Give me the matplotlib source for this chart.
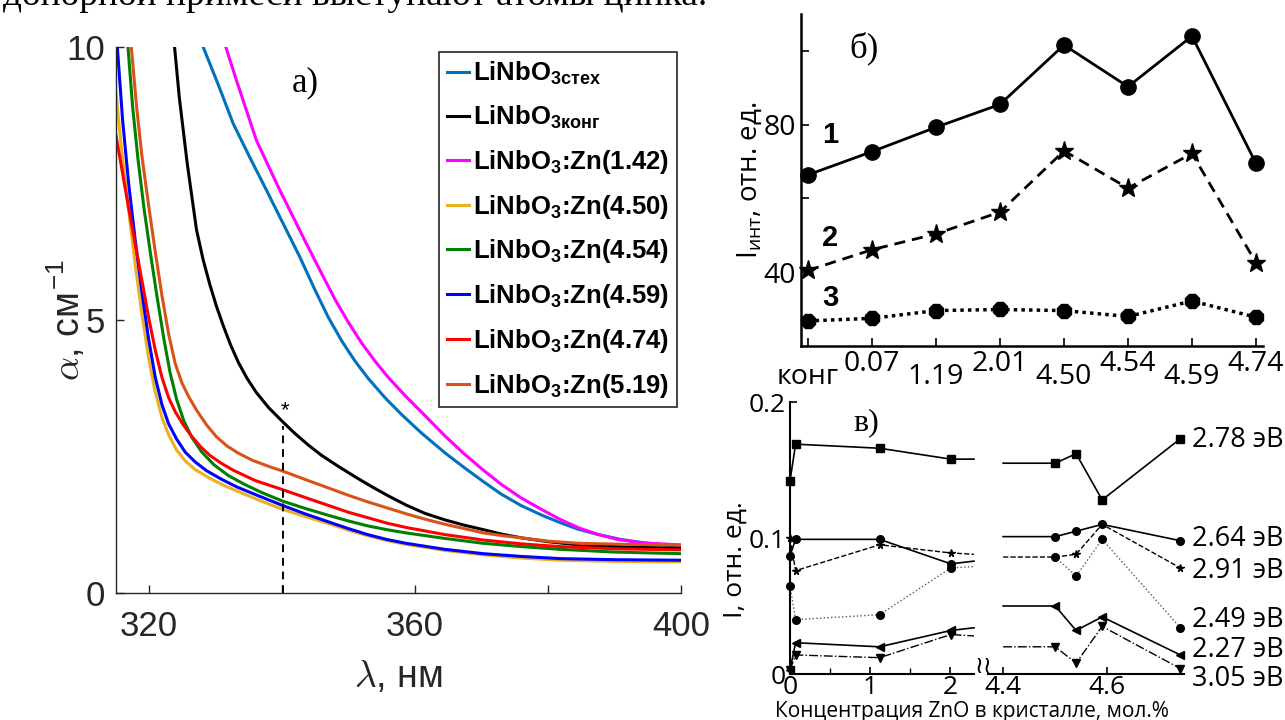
import matplotlib
matplotlib.use("Agg")
import matplotlib.pyplot as plt

plt.rcParams["font.family"] = ["Liberation Sans", "DejaVu Sans"]

# ---------------- a) absorption spectra: wavelength (nm) -> alpha (cm^-1)
lam_stex = [328.2, 330.5, 332.7, 335.2, 337.7, 340.2, 342.7, 345.0, 347.0, 349.0, 351.0, 353.0,
            355.5, 358.0, 361.0, 364.5, 367.5, 370.3, 373.0, 376.0, 379.0, 381.8, 384.5, 387.6,
            391.0, 395.0, 400.0]
alpha_stex = [10.0, 9.30, 8.60, 7.98, 7.38, 6.77, 6.16, 5.55, 5.05, 4.62, 4.25, 3.93,
              3.58, 3.27, 2.93, 2.57, 2.29, 2.04, 1.81, 1.60, 1.43, 1.29, 1.17, 1.07,
              0.98, 0.91, 0.85]

lam_kong = [323.9, 324.6, 325.8, 327.2, 328.2, 329.2, 330.2, 331.2, 332.3, 333.5, 334.8, 336.2,
            338.0, 340.2, 342.0, 344.0, 346.0, 348.5, 351.0, 353.5, 356.0, 358.7, 361.5, 364.5,
            367.5, 370.3, 373.0, 376.0, 380.0, 384.7, 392.0, 400.0]
alpha_kong = [10.0, 9.09, 7.87, 6.65, 6.10, 5.65, 5.25, 4.90, 4.55, 4.22, 3.93, 3.67,
              3.40, 3.13, 2.92, 2.71, 2.52, 2.32, 2.13, 1.95, 1.78, 1.61, 1.46, 1.34,
              1.24, 1.16, 1.08, 1.01, 0.94, 0.88, 0.84, 0.82]

lam_142 = [331.6, 333.2, 336.2, 339.7, 343.7, 346.0, 348.0, 350.0, 352.0, 354.0, 356.0, 358.5,
           361.6, 364.5, 367.4, 370.3, 373.1, 376.0, 378.9, 381.8, 384.7, 387.6, 390.5, 394.0, 400.0]
alpha_142 = [10.0, 9.39, 8.29, 7.38, 6.40, 5.85, 5.38, 4.96, 4.58, 4.25, 3.95, 3.62,
             3.24, 2.88, 2.55, 2.25, 1.98, 1.74, 1.54, 1.35, 1.19, 1.07, 0.98, 0.92, 0.88]

lam_450 = [315.1, 315.9, 317.0, 318.0, 319.0, 320.0, 321.0, 322.0, 323.0, 324.2, 325.5, 327.0,
           329.2, 331.5, 334.4, 337.0, 340.2, 343.5, 347.1, 350.0, 352.9, 355.8, 358.7, 364.5,
           370.3, 376.0, 381.8, 390.0, 400.0]
alpha_450 = [9.16, 8.17, 7.0, 6.0, 5.1, 4.3, 3.68, 3.22, 2.9, 2.62, 2.42, 2.26,
             2.10, 1.96, 1.81, 1.68, 1.53, 1.40, 1.27, 1.15, 1.05, 0.96, 0.89, 0.78,
             0.70, 0.64, 0.60, 0.58, 0.57]

lam_454 = [316.9, 317.6, 318.4, 319.3, 320.3, 321.3, 322.3, 323.2, 324.2, 325.3, 326.5, 328.0,
           329.8, 332.0, 334.4, 337.0, 340.2, 343.5, 347.1, 350.0, 352.9, 355.8, 358.7, 364.5,
           370.3, 376.0, 381.8, 390.0, 400.0]
alpha_454 = [10.0, 8.9, 7.95, 7.05, 6.2, 5.4, 4.65, 4.05, 3.55, 3.15, 2.85, 2.58,
             2.35, 2.15, 1.99, 1.84, 1.68, 1.55, 1.42, 1.32, 1.23, 1.16, 1.10, 1.00,
             0.91, 0.85, 0.80, 0.75, 0.72]

lam_459 = [315.3, 316.1, 317.0, 318.0, 319.0, 320.0, 321.0, 322.0, 323.0, 324.2, 325.5, 327.0,
           328.7, 331.0, 333.3, 336.5, 340.2, 343.5, 347.1, 350.0, 352.9, 355.8, 358.7, 364.5,
           370.3, 376.0, 381.8, 390.0, 400.0]
alpha_459 = [10.0, 8.65, 7.5, 6.45, 5.5, 4.65, 3.95, 3.45, 3.1, 2.82, 2.58, 2.40,
             2.24, 2.08, 1.94, 1.78, 1.60, 1.45, 1.30, 1.18, 1.07, 0.98, 0.91, 0.80,
             0.72, 0.67, 0.63, 0.61, 0.60]

lam_474 = [315.1, 316.0, 317.0, 318.0, 319.0, 320.0, 321.0, 322.0, 323.0, 324.0, 325.2, 326.4,
           327.8, 329.2, 331.0, 332.7, 336.0, 340.2, 343.5, 347.1, 350.0, 352.9, 355.8, 358.7,
           364.5, 370.3, 376.0, 381.8, 390.0, 400.0]
alpha_474 = [8.38, 7.75, 7.05, 6.38, 5.72, 5.05, 4.45, 3.95, 3.58, 3.32, 3.08, 2.88,
             2.68, 2.52, 2.37, 2.25, 2.06, 1.89, 1.75, 1.60, 1.48, 1.38, 1.28, 1.20,
             1.07, 0.97, 0.90, 0.85, 0.81, 0.79]

lam_519 = [317.4, 318.2, 319.0, 320.0, 321.0, 322.0, 323.0, 324.0, 325.0, 326.0, 327.2, 328.7,
           330.2, 331.8, 333.5, 335.6, 337.8, 340.2, 343.5, 347.1, 350.0, 352.9, 355.8, 358.7,
           361.6, 364.5, 367.4, 370.3, 373.2, 376.0, 380.0, 384.7, 392.0, 400.0]
alpha_519 = [10.0, 8.9, 8.0, 7.1, 6.25, 5.45, 4.75, 4.2, 3.85, 3.6, 3.35, 3.08,
             2.86, 2.69, 2.56, 2.43, 2.33, 2.23, 2.08, 1.92, 1.79, 1.67, 1.56, 1.45,
             1.35, 1.26, 1.18, 1.10, 1.05, 1.01, 0.95, 0.91, 0.89, 0.88]

spectra_labels = ["LiNbO$_{\\mathregular{3стех}}$", "LiNbO$_{\\mathregular{3конг}}$",
                  "LiNbO$_{\\mathregular{3}}$:Zn(1.42)", "LiNbO$_{\\mathregular{3}}$:Zn(4.50)",
                  "LiNbO$_{\\mathregular{3}}$:Zn(4.54)", "LiNbO$_{\\mathregular{3}}$:Zn(4.59)",
                  "LiNbO$_{\\mathregular{3}}$:Zn(4.74)", "LiNbO$_{\\mathregular{3}}$:Zn(5.19)"]
spectra_colors = ["#0072BD", "black", "#FF00FF", "#EDB120", "#008000", "#0000FF", "#FF0000", "#D95319"]

lam_marker = 340.2   # position of the dashed line / asterisk

# ---------------- б) integrated intensity
samples_b = ["конг", "0.07", "1.19", "2.01", "4.50", "4.54", "4.59", "4.74"]
i_int_1 = [66.4, 72.7, 79.3, 85.5, 101.6, 90.3, 104.0, 69.5]
i_int_2 = [40.5, 46.1, 50.4, 56.3, 72.9, 62.8, 72.2, 42.6]
i_int_3 = [26.8, 27.5, 29.6, 29.9, 29.6, 28.0, 32.2, 27.8]

# ---------------- в) band intensities vs ZnO concentration (broken axis)
zn_low = [0.0, 0.07, 1.12, 2.01, 2.3]
zn_high = [4.4, 4.50, 4.54, 4.59, 4.74]
band_labels = ["2.78 эВ", "2.64 эВ", "2.91 эВ", "2.49 эВ", "2.27 эВ", "3.05 эВ"]
band_low = [[0.142, 0.169, 0.166, 0.158, 0.158],
            [0.087, 0.099, 0.099, 0.081, 0.083],
            [0.100, 0.076, 0.095, 0.089, 0.088],
            [0.065, 0.040, 0.0436, 0.078, 0.079],
            [0.003, 0.023, 0.020, 0.032, 0.034],
            [0.003, 0.014, 0.012, 0.029, 0.028]]
band_high = [[0.155, 0.155, 0.162, 0.128, 0.173],
             [0.101, 0.101, 0.105, 0.110, 0.098],
             [0.086, 0.086, 0.088, 0.110, 0.078],
             [0.086, 0.086, 0.072, 0.099, 0.034],
             [0.050, 0.050, 0.032, 0.042, 0.014],
             [0.020, 0.020, 0.008, 0.035, 0.004]]
band_label_y = [0.172, 0.099, 0.076, 0.040, 0.018, -0.004]

fig = plt.figure(figsize=(12.85, 7.2), dpi=100)

fig.text(0.002, 0.993, "донорной примеси выступают атомы цинка.", family="Liberation Serif",
         fontsize=27, va="baseline", ha="left")

# ===== a)
ax = fig.add_axes([116 / 1285, 1 - 593 / 720, 565 / 1285, 546 / 720])
curves = [(lam_stex, alpha_stex), (lam_kong, alpha_kong), (lam_142, alpha_142), (lam_450, alpha_450),
          (lam_454, alpha_454), (lam_459, alpha_459), (lam_474, alpha_474), (lam_519, alpha_519)]
for (lam, alp), c, lab in zip(curves, spectra_colors, spectra_labels):
    ax.plot(lam, alp, color=c, lw=2.2, label=lab, solid_joinstyle="round")
ax.plot([lam_marker, lam_marker], [0, 3.05], color="black", lw=1.4, ls=(0, (4, 3)))
ax.text(lam_marker + 0.3, 3.15, "*", fontsize=16, ha="center", va="bottom")
ax.text(343.6, 9.35, "a)", family="Liberation Serif", fontsize=25, ha="center", va="center")

ax.set_xlim(315.1, 400)
ax.set_ylim(0, 10)
ax.set_xticks([320, 340, 360, 380, 400])
ax.set_xticklabels(["320", "", "360", "", "400"])
ax.set_yticks([0, 5, 10])
for s in ["top", "right"]:
    ax.spines[s].set_visible(False)
for s in ["left", "bottom"]:
    ax.spines[s].set_color("#262626")
    ax.spines[s].set_linewidth(1.0)
ax.tick_params(direction="in", length=6, width=1, colors="#262626", labelsize=25)
ax.tick_params(axis="x", pad=12)
ax.tick_params(axis="y", pad=8)
ax.set_ylabel(r"$\alpha$, см$^{\mathregular{-1}}$", fontsize=27, math_fontfamily="cm", color="#262626")
ax.yaxis.set_label_coords(-0.05, 0.5)
ax.set_xlabel(r"$\lambda$, нм", fontsize=27, math_fontfamily="cm", color="#262626")
ax.xaxis.set_label_coords(0.5, -0.12)

leg = ax.legend(loc="upper left", bbox_to_anchor=(0.572, 0.991), borderaxespad=0,
                prop={"family": "Liberation Sans", "weight": "bold", "size": 18.5},
                handlelength=0.85, handletextpad=0.15, borderpad=0.3, labelspacing=0.65,
                fancybox=False, framealpha=1)
leg.get_frame().set_edgecolor("#262626")
leg.get_frame().set_linewidth(1.2)

# ===== б)
axb = fig.add_axes([801 / 1285, 1 - 346 / 720, 462 / 1285, 332 / 720])
xb = list(range(len(samples_b)))
axb.plot(xb, i_int_1, color="black", lw=2, marker="o", ms=11, clip_on=False)
axb.plot(xb, i_int_2, color="black", lw=2, ls=(0, (4, 2.5)), marker="*", ms=14, clip_on=False)
axb.plot(xb, i_int_3, color="black", lw=2.5, ls=(0, (1, 1.2)), marker="8", ms=11, clip_on=False)
for lab, y in zip(["1", "2", "3"], [77.2, 49.4, 32.9]):
    axb.text(0.35, y, lab, family="Liberation Sans", weight="bold", fontsize=21, ha="center", va="center")
axb.text(0.87, 100.7, "б)", family="Liberation Serif", fontsize=25, ha="center", va="center")
axb.set_xlim(-0.11, 7.11)
axb.set_ylim(20, 110)
axb.set_yticks([40, 60, 80, 100])
axb.set_yticklabels(["40", "", "80", ""])
axb.set_xticks(xb[0::2])
axb.set_xticklabels(samples_b[0::2])
axb.set_xticks(xb[1::2], minor=True)
axb.set_xticklabels(samples_b[1::2], minor=True)
for s in ["top", "right"]:
    axb.spines[s].set_visible(False)
for s in ["left", "bottom"]:
    axb.spines[s].set_linewidth(1.8)
axb.tick_params(direction="in", length=6, width=1.2, labelsize=20.5, labelfontfamily="Open Sans")
axb.tick_params(axis="x", which="major", pad=12)
axb.tick_params(axis="x", which="minor", pad=3, length=6, width=1.2, direction="in",
                labelsize=20.5, labelfontfamily="Open Sans")
axb.set_ylabel("I$_{\\mathregular{инт}}$, отн. ед.", family="Open Sans", fontsize=20)
axb.yaxis.set_label_coords(-0.08, 0.5)

# ===== в)
ax_l = fig.add_axes([790 / 1285, 1 - 674 / 720, 184 / 1285, 272 / 720])
ax_r = fig.add_axes([988 / 1285, 1 - 674 / 720, 196 / 1285, 272 / 720], sharey=ax_l)
styles = [("-", "s", "black", 1.2), ("-", "o", "black", 1.2), ("--", "*", "black", 1.0),
          (":", "o", "0.35", 1.0), ("-", "<", "black", 1.2), ("-.", "v", "black", 1.0)]
for lo, hi, (ls, mk, col, lw) in zip(band_low, band_high, styles):
    ax_l.plot(zn_low, lo, ls=ls, marker=mk, color=col, lw=lw, ms=5.5, mfc="black", mec="black",
              markevery=[0, 1, 2, 3], clip_on=False)
    ax_r.plot(zn_high, hi, ls=ls, marker=mk, color=col, lw=lw, ms=5.5, mfc="black", mec="black",
              markevery=[1, 2, 3, 4], clip_on=False)
for lab, y in zip(band_labels, band_label_y):
    ax_r.text(4.763, y, lab, family="Open Sans", fontsize=19.5, ha="left", va="center", clip_on=False)
ax_l.text(0.95, 0.185, "в)", family="Liberation Serif", fontsize=23, ha="center", va="center")

ax_l.set_xlim(0, 2.3)
ax_l.set_ylim(0, 0.2)
ax_l.set_xticks([0, 1, 2])
ax_l.set_xticks([0.5, 1.5], minor=True)
ax_l.set_yticks([0, 0.1, 0.2])
ax_l.set_yticklabels(["0", "0.1", "0.2"])
ax_r.set_xlim(4.371, 4.747)
ax_r.set_xticks([4.4, 4.6])
for a in (ax_l, ax_r):
    a.spines["top"].set_visible(False)
    a.spines["right"].set_visible(False)
    a.spines["bottom"].set_linewidth(1.5)
    a.tick_params(direction="in", length=5, width=1.2, labelsize=19, labelfontfamily="Open Sans", pad=0.5)
    a.tick_params(which="minor", direction="in", length=4, width=1.0)
ax_l.spines["left"].set_linewidth(1.5)
ax_r.spines["left"].set_visible(False)
ax_r.tick_params(axis="y", left=False, labelleft=False)
ax_l.tick_params(axis="y", pad=3)
ax_l.set_ylabel("I, отн. ед.", family="Open Sans", fontsize=19)
ax_l.yaxis.set_label_coords(-0.23, 0.42)
fig.text(0.765, 1 - 666 / 720, "≀≀", family="DejaVu Sans", fontsize=17, ha="center", va="center")
fig.text(972 / 1285, 1 - 711 / 720, "Концентрация ZnO в кристалле, мол.%", family="Open Sans",
         fontsize=15, ha="center", va="center")

fig.savefig("out.png", dpi=100)
